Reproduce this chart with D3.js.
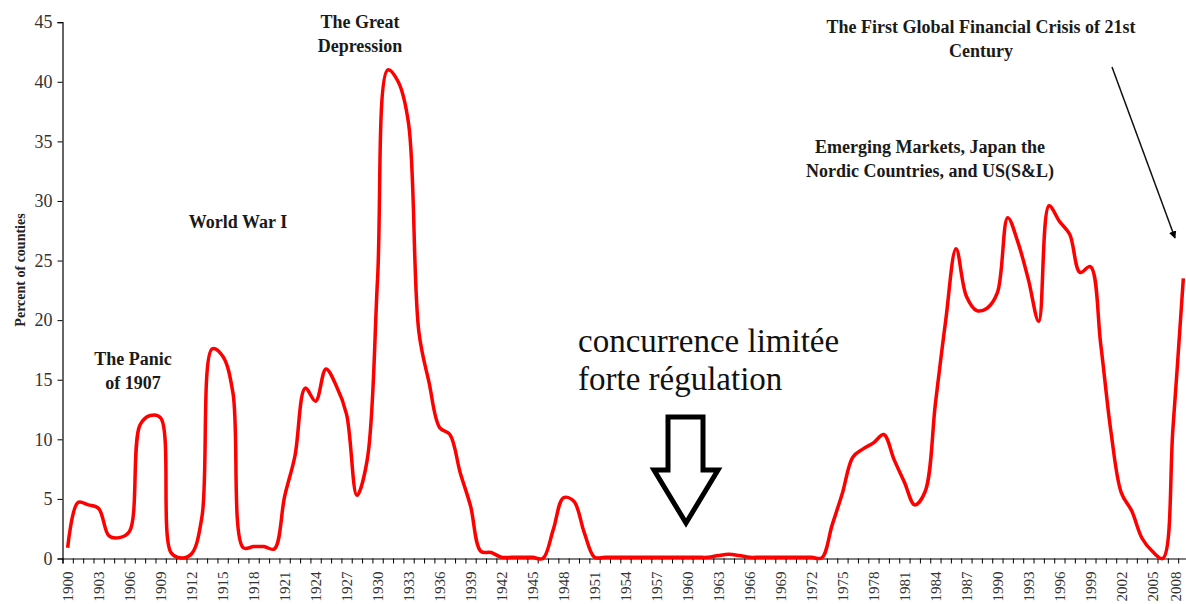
<!DOCTYPE html>
<html>
<head>
<meta charset="utf-8">
<script src="https://cdn.jsdelivr.net/npm/d3@7"></script>
<style>
  html, body { margin: 0; padding: 0; background: #fff; }
  svg { display: block; }
  text { font-family: "Liberation Serif", "Times New Roman", serif; }
</style>
</head>
<body>
<svg id="chart" width="1186" height="604"></svg>
<script>
// ---- data ----
const years = [
  1900,1901,1902,1903,1904,1905,1906,1907,1908,1909,
  1910,1911,1912,1913,1914,1915,1916,1917,1918,1919,
  1920,1921,1922,1923,1924,1925,1926,1927,1928,1929,
  1930,1931,1932,1933,1934,1935,1936,1937,1938,1939,
  1940,1941,1942,1943,1944,1945,1946,1947,1948,1949,
  1950,1951,1952,1953,1954,1955,1956,1957,1958,1959,
  1960,1961,1962,1963,1964,1965,1966,1967,1968,1969,
  1970,1971,1972,1973,1974,1975,1976,1977,1978,1979,
  1980,1981,1982,1983,1984,1985,1986,1987,1988,1989,
  1990,1991,1992,1993,1994,1995,1996,1997,1998,1999,
  2000,2001,2002,2003,2004,2005,2006,2007,2008
];
const percentBanking = [
  0.9,4.7,4.5,4.2,1.9,1.75,2.3,11.2,12.0,11.8,
  0.5,0.05,0.4,3.5,17.6,17.0,13.9,0.9,1.0,1.0,
  0.8,5.2,8.6,14.3,13.2,15.9,14.5,12.1,5.3,8.3,
  23.5,41.0,40.0,36.5,19.0,14.7,11.0,10.4,7.2,4.4,
  0.6,0.5,0.1,0.1,0.1,0.1,0.0,2.4,5.1,4.8,
  2.2,0.1,0.1,0.1,0.1,0.1,0.1,0.1,0.1,0.1,
  0.1,0.1,0.1,0.25,0.35,0.25,0.1,0.1,0.1,0.1,
  0.1,0.1,0.1,0.05,2.8,5.5,8.5,9.2,9.7,10.4,
  8.3,6.4,4.5,5.6,13.0,20.0,26.0,22.0,20.8,21.0,
  22.3,28.6,26.5,23.4,19.9,29.6,28.3,27.2,24.0,24.5,
  18.0,10.6,5.5,4.0,1.7,0.6,0.0,11.0,23.5
];
const yTicks = [0,5,10,15,20,25,30,35,40,45];
const xLabelYears = years.filter((y, i) => i % 3 === 0);
const yAxisTitle = "Percent of counties";

const boldNotes = [
  { lines: ["The Great", "Depression"], cx: 360, y: 28 },
  { lines: ["World War I"], cx: 238, y: 228 },
  { lines: ["The Panic", "of 1907"], cx: 133, y: 365 },
  { lines: ["Emerging Markets, Japan the", "Nordic Countries, and US(S&L)"], cx: 930, y: 153 },
  { lines: ["The First Global Financial Crisis of 21st", "Century"], cx: 981, y: 33 }
];
const frenchNote = ["concurrence limitée", "forte régulation"];

// ---- layout ----
const svg = d3.select("#chart");
const x = d3.scaleLinear().domain([1899.5, 2008.5]).range([62.5, 1188.5]);
const y = d3.scaleLinear().domain([0, 45]).range([558.5, 22.2]);

// y axis
const gy = svg.append("g").attr("transform", `translate(${x(1899.5)},0)`)
  .call(d3.axisLeft(y).tickValues(yTicks).tickSize(5).tickPadding(5).tickFormat(d3.format("d")));
gy.select(".domain").attr("stroke", "#000").attr("stroke-width", 1.2);
gy.selectAll(".tick line").attr("stroke", "#000");
gy.selectAll(".tick text")
  .attr("font-family", "'Liberation Serif', 'Times New Roman', serif")
  .attr("font-size", 18).attr("fill", "#333");

// x axis: tick marks at year boundaries
const boundaries = years.map(d => d - 0.5).concat([2008.5]);
const gxTicks = svg.append("g").attr("transform", `translate(0,${y(0)})`)
  .call(d3.axisBottom(x).tickValues(boundaries).tickSize(5).tickFormat(""));
gxTicks.select(".domain").attr("stroke", "#000").attr("stroke-width", 1.2);
gxTicks.selectAll(".tick line").attr("stroke", "#000");

// x labels centred on years
const gxLab = svg.append("g").attr("transform", `translate(0,${y(0)})`)
  .call(d3.axisBottom(x).tickValues(xLabelYears).tickSize(0).tickFormat(d3.format("d")));
gxLab.select(".domain").remove();
gxLab.selectAll(".tick text")
  .attr("font-family", "'Liberation Serif', 'Times New Roman', serif")
  .attr("font-size", 15).attr("fill", "#333")
  .attr("transform", "rotate(-90)")
  .attr("text-anchor", "end")
  .attr("x", -13)
  .attr("y", d => d === 2008 ? -8 : 0)
  .attr("dy", "0.35em");

// y axis title
svg.append("text")
  .attr("transform", "translate(20,270) rotate(-90)")
  .attr("text-anchor", "middle").attr("dy", "0.35em")
  .attr("font-size", 14).attr("font-weight", "bold").attr("fill", "#222")
  .text(yAxisTitle);

// data line
const line = d3.line()
  .x((d, i) => x(years[i]))
  .y(d => y(d))
  .curve(d3.curveCatmullRom.alpha(0.5));
svg.append("path")
  .datum(percentBanking)
  .attr("d", line)
  .attr("fill", "none")
  .attr("stroke", "#ff0000")
  .attr("stroke-width", 3.5)
  .attr("stroke-linejoin", "round");

// bold annotations
boldNotes.forEach(n => {
  const t = svg.append("text")
    .attr("text-anchor", "middle")
    .attr("font-size", 18).attr("font-weight", "bold").attr("fill", "#1a1a1a");
  n.lines.forEach((l, i) => {
    t.append("tspan").attr("x", n.cx).attr("y", n.y + i * 24).text(l);
  });
});

// french annotation
const ft = svg.append("text").attr("font-size", 33).attr("fill", "#111");
frenchNote.forEach((l, i) => {
  ft.append("tspan").attr("x", 578).attr("y", 352 + i * 37.5).text(l);
});

// big outlined down arrow
const bigArrow = [[668,417],[703,417],[703,470],[718,470],[686,523],[654,470],[668,470]];
svg.append("path")
  .attr("d", d3.line()(bigArrow) + "Z")
  .attr("fill", "#fff").attr("stroke", "#000")
  .attr("stroke-width", 5).attr("stroke-linejoin", "miter");

// thin pointer arrow
const defs = svg.append("defs");
defs.append("marker")
  .attr("id", "ah").attr("viewBox", "0 0 10 10")
  .attr("refX", 9).attr("refY", 5)
  .attr("markerWidth", 5).attr("markerHeight", 5)
  .attr("orient", "auto")
  .append("path").attr("d", "M0,0L10,5L0,10Z").attr("fill", "#000");
svg.append("line")
  .attr("x1", 1112).attr("y1", 67).attr("x2", 1175).attr("y2", 238)
  .attr("stroke", "#111").attr("stroke-width", 1.5)
  .attr("marker-end", "url(#ah)");
</script>
</body>
</html>
